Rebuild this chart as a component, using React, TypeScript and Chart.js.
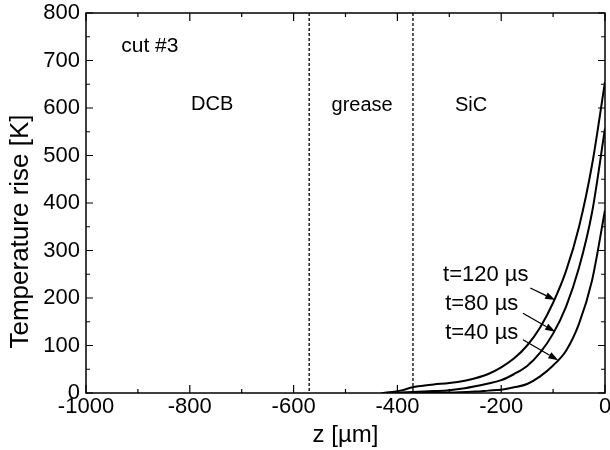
import React, { useEffect, useRef } from "react";
import { Chart, registerables } from "chart.js";

Chart.register(...registerables);

const FONT = "'Liberation Sans', Arial, Helvetica, sans-serif";

// Depth z [µm] and temperature rise [K] for each time
const zT120 = [-430, -410, -390, -375, -360, -330, -300, -270, -250, -225, -200, -175, -150, -125, -100, -75, -50, -25, 0];
const tempT120 = [0, 2, 6, 11, 14, 18, 21, 26, 31, 40, 54, 73, 100, 138, 190, 257, 350, 480, 655];

const zT80 = [-430, -370, -330, -300, -270, -250, -225, -200, -175, -150, -125, -100, -75, -50, -25, 0];
const tempT80 = [0, 2, 4, 6, 10, 14, 20, 27, 40, 57, 85, 125, 182, 264, 380, 557];

const zT40 = [-430, -330, -280, -250, -225, -200, -175, -150, -125, -100, -75, -50, -25, 0];
const tempT40 = [0, 0.5, 1.5, 3, 5, 7, 12, 19, 35, 58, 89, 146, 237, 385];

// Axis ranges and ticks
const xMin = -1000, xMax = 0, xStep = 200, xMinorStep = 100;
const yMin = 0, yMax = 800, yStep = 100, yMinorStep = 50;

// Axis titles
const xTitle = "z [µm]";
const yTitle = "Temperature rise [K]";

// Layer boundaries (dashed lines)
const boundaries = [-570, -370];

// Text annotations [text, z, T, font size]
const regionLabels: [string, number, number, number][] = [
  ["cut #3", -877, 730, 21],
  ["DCB", -757, 608, 20],
  ["grease", -468, 606, 20],
  ["SiC", -258, 606, 20],
];

// Curve labels: text, text z, text T, arrow start z/T, arrow end z/T
const curveLabels = ["t=120 µs", "t=80 µs", "t=40 µs"];
const labelZ = [-312, -308, -308];
const labelT = [248, 187, 126];
const arrowFromZ = [-144, -158, -158];
const arrowFromT = [221, 168, 112];
const arrowToZ = [-96, -96, -90];
const arrowToT = [196, 129, 69];

const toXY = (xs: number[], ys: number[]) => xs.map((x, i) => ({ x, y: ys[i] }));

const decorPlugin = {
  id: "decor",
  beforeDatasetsDraw(chart: any) {
    const { ctx, chartArea, scales } = chart;
    const x = scales.x;
    ctx.save();
    ctx.strokeStyle = "#000";
    ctx.lineWidth = 1.3;
    ctx.setLineDash([3, 2]);
    boundaries.forEach((b) => {
      const px = x.getPixelForValue(b);
      ctx.beginPath();
      ctx.moveTo(px, chartArea.top);
      ctx.lineTo(px, chartArea.bottom);
      ctx.stroke();
    });
    ctx.restore();
  },
  afterDraw(chart: any) {
    const { ctx, chartArea, scales } = chart;
    const x = scales.x, y = scales.y;
    const { left, right, top, bottom } = chartArea;
    ctx.save();
    ctx.strokeStyle = "#000";
    ctx.fillStyle = "#000";
    ctx.lineWidth = 1.5;
    ctx.setLineDash([]);
    ctx.strokeRect(left, top, right - left, bottom - top);
    ctx.lineWidth = 1.2;
    for (let v = yMin; v <= yMax; v += yMinorStep) {
      const major = v % yStep === 0;
      const len = major ? 7 : 4;
      const py = y.getPixelForValue(v);
      ctx.beginPath();
      ctx.moveTo(left, py);
      ctx.lineTo(left + len, py);
      ctx.moveTo(right, py);
      ctx.lineTo(right - len, py);
      ctx.stroke();
    }
    for (let v = xMin; v <= xMax; v += xMinorStep) {
      const major = (v - xMin) % xStep === 0;
      const len = major ? 8 : 4;
      const px = x.getPixelForValue(v);
      ctx.beginPath();
      ctx.moveTo(px, bottom);
      ctx.lineTo(px, bottom - len);
      ctx.moveTo(px, top);
      ctx.lineTo(px, top + len);
      ctx.stroke();
    }
    // y axis title (drawn manually, positioned as in the reference)
    ctx.save();
    ctx.font = `26px ${FONT}`;
    ctx.textAlign = "center";
    ctx.textBaseline = "middle";
    ctx.translate(21, y.getPixelForValue(340));
    ctx.rotate(-Math.PI / 2);
    ctx.fillText(yTitle, 0, 0);
    ctx.restore();
    // region labels
    ctx.textAlign = "center";
    ctx.textBaseline = "middle";
    regionLabels.forEach(([t, zx, ty, fs]) => {
      ctx.font = `${fs}px ${FONT}`;
      ctx.fillText(t, x.getPixelForValue(zx), y.getPixelForValue(ty));
    });
    // curve labels
    ctx.font = `22px ${FONT}`;
    ctx.textAlign = "left";
    curveLabels.forEach((t, i) => {
      ctx.fillText(t, x.getPixelForValue(labelZ[i]), y.getPixelForValue(labelT[i]));
    });
    // arrows
    ctx.lineWidth = 1.3;
    curveLabels.forEach((_, i) => {
      const x0 = x.getPixelForValue(arrowFromZ[i]);
      const y0 = y.getPixelForValue(arrowFromT[i]);
      const x1 = x.getPixelForValue(arrowToZ[i]);
      const y1 = y.getPixelForValue(arrowToT[i]);
      const ang = Math.atan2(y1 - y0, x1 - x0);
      const hl = 10, hw = 3.5;
      const bx = x1 - hl * Math.cos(ang);
      const by = y1 - hl * Math.sin(ang);
      ctx.beginPath();
      ctx.moveTo(x0, y0);
      ctx.lineTo(bx, by);
      ctx.stroke();
      ctx.beginPath();
      ctx.moveTo(x1, y1);
      ctx.lineTo(bx + hw * Math.sin(ang), by - hw * Math.cos(ang));
      ctx.lineTo(bx - hw * Math.sin(ang), by + hw * Math.cos(ang));
      ctx.closePath();
      ctx.fill();
    });
    ctx.restore();
  },
};

export default function App() {
  const ref = useRef<HTMLCanvasElement | null>(null);
  useEffect(() => {
    if (!ref.current) return;
    const lineStyle = {
      borderColor: "#000",
      borderWidth: 2,
      pointRadius: 0,
      fill: false,
      cubicInterpolationMode: "monotone" as const,
    };
    const chart = new Chart(ref.current, {
      type: "line",
      data: {
        datasets: [
          { label: "t=120 µs", data: toXY(zT120, tempT120), ...lineStyle },
          { label: "t=80 µs", data: toXY(zT80, tempT80), ...lineStyle },
          { label: "t=40 µs", data: toXY(zT40, tempT40), ...lineStyle },
        ],
      },
      options: {
        animation: false,
        responsive: false,
        layout: { padding: { top: 13, right: 5, left: 0, bottom: 0 } },
        plugins: { legend: { display: false }, tooltip: { enabled: false } },
        scales: {
          x: {
            type: "linear",
            min: xMin,
            max: xMax,
            grid: { display: false, drawTicks: false },
            border: { display: false },
            ticks: {
              stepSize: xStep,
              color: "#000",
              font: { family: FONT, size: 22 },
              padding: 1,
              maxRotation: 0,
              autoSkip: false,
              callback: (v: any) => String(v),
            },
            title: {
              display: true,
              text: xTitle,
              color: "#000",
              font: { family: FONT, size: 24 },
              padding: { top: 0, bottom: 0 },
            },
            afterFit: (s: any) => {
              s.height = 57;
              s.paddingLeft = 0;
              s.paddingRight = 0;
            },
          },
          y: {
            type: "linear",
            min: yMin,
            max: yMax,
            grid: { display: false, drawTicks: false },
            border: { display: false },
            ticks: {
              stepSize: yStep,
              color: "#000",
              font: { family: FONT, size: 22 },
              padding: 6,
              callback: (v: any) => String(v),
            },
            afterFit: (s: any) => {
              s.width = 86;
              s.paddingTop = 0;
              s.paddingBottom = 0;
            },
          },
        },
      },
      plugins: [decorPlugin],
    });
    return () => chart.destroy();
  }, []);
  return (
    <div style={{ position: "absolute", left: 0, top: 0, width: 610, height: 450, background: "#fff" }}>
      <canvas ref={ref} width={610} height={450} style={{ display: "block" }} />
    </div>
  );
}
